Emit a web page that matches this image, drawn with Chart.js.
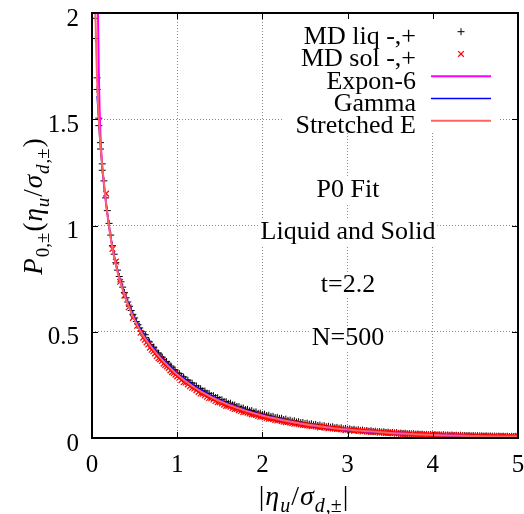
<!DOCTYPE html>
<html>
<head>
<meta charset="utf-8">
<script src="https://cdn.jsdelivr.net/npm/chart.js@4.4.1/dist/chart.umd.min.js"></script>
<style>
  html, body { margin: 0; padding: 0; background: #fff; }
</style>
</head>
<body>
<canvas id="c" width="524" height="514"></canvas>
<script>
// MD liquid points, "+" set
const liqX = [0.04,0.04,0.06,0.06,0.08,0.08,0.10,0.10,0.12,0.12,
  0.14,0.16,0.18,0.20,0.22,0.24,0.26,0.28,0.30,0.32,
  0.34,0.36,0.38,0.40,0.42,0.44,0.46,0.48,0.50,0.52,
  0.54,0.56,0.58,0.60,0.63,0.66,0.69,0.72,0.75,0.78,
  0.81,0.84,0.87,0.90,0.93,0.96,1.00,1.05,1.10,1.15,
  1.20,1.25,1.30,1.35,1.40,1.45,1.50,1.55,1.60,1.65,
  1.70,1.75,1.80,1.85,1.90,1.95,2.00,2.05,2.10,2.15,
  2.20,2.25,2.30,2.35,2.40,2.45,2.50,2.55,2.60,2.65,
  2.70,2.75,2.80,2.85,2.90,2.95,3.00,3.05,3.10,3.15,
  3.20,3.25,3.30,3.35,3.40,3.45,3.50,3.55,3.60,3.65,
  3.70,3.75,3.80,3.85,3.90,3.95,4.00,4.05,4.10,4.15,
  4.20,4.25,4.30,4.35,4.40,4.45,4.50,4.55,4.60,4.65,
  4.70,4.75,4.80,4.85,4.90,4.95,5.00];
const liqY = [1.975,1.88,1.695,1.64,1.505,1.47,1.39,1.36,1.29,1.26,
  1.21,1.13,1.07,1.01,0.955,0.905,0.865,0.825,0.79,0.76,
  0.735,0.71,0.685,0.66,0.64,0.62,0.60,0.582,0.565,0.548,
  0.533,0.518,0.502,0.49,0.473,0.456,0.44,0.424,0.41,0.396,
  0.382,0.369,0.357,0.347,0.333,0.321,0.307,0.291,0.275,0.261,
  0.247,0.234,0.222,0.211,0.200,0.190,0.181,0.172,0.163,0.156,
  0.148,0.141,0.134,0.128,0.122,0.116,0.111,0.106,0.101,0.096,
  0.092,0.087,0.083,0.079,0.075,0.072,0.068,0.065,0.062,0.059,
  0.056,0.053,0.051,0.048,0.046,0.043,0.041,0.039,0.037,0.036,
  0.034,0.032,0.031,0.029,0.028,0.026,0.025,0.024,0.022,0.021,
  0.020,0.019,0.018,0.017,0.016,0.015,0.015,0.014,0.014,0.013,
  0.013,0.012,0.012,0.011,0.011,0.010,0.010,0.0095,0.009,0.0088,
  0.0085,0.008,0.0078,0.0075,0.0072,0.007,0.0068];

// MD liquid points, "-" set
const liqX2 = [0.625,0.675,0.725,0.775,0.825,0.875,0.925,0.975,1.025,1.075,
  1.125,1.175,1.225,1.275,1.325,1.375,1.425,1.475,1.525,1.575,
  1.625,1.675,1.725,1.775,1.825,1.875,1.925,1.975,2.025,2.075,
  2.125,2.175,2.225,2.275,2.325,2.375,2.425,2.475,2.525,2.575,
  2.625,2.675,2.725,2.775,2.825,2.875,2.925,2.975,3.025,3.075,
  3.125,3.175,3.225,3.275,3.325,3.375,3.425,3.475,3.525,3.575,
  3.625,3.675,3.725,3.775,3.825,3.875,3.925,3.975,4.025,4.075,
  4.125,4.175,4.225,4.275,4.325,4.375,4.425,4.475,4.525,4.575,
  4.625,4.675,4.725,4.775,4.825,4.875,4.925,4.975];
const liqY2 = [0.486,0.452,0.428,0.401,0.38,0.36,0.339,0.32,0.303,0.287,
  0.272,0.258,0.245,0.232,0.221,0.209,0.199,0.19,0.18,0.171,
  0.164,0.155,0.148,0.141,0.135,0.129,0.123,0.117,0.112,0.107,
  0.102,0.097,0.093,0.089,0.084,0.081,0.077,0.073,0.070,0.067,
  0.064,0.061,0.058,0.055,0.053,0.050,0.048,0.045,0.043,0.041,
  0.039,0.037,0.035,0.034,0.032,0.030,0.029,0.027,0.026,0.025,
  0.023,0.022,0.021,0.020,0.019,0.018,0.017,0.016,0.016,0.015,
  0.015,0.014,0.014,0.013,0.013,0.012,0.012,0.011,0.011,0.010,
  0.010,0.0095,0.009,0.0088,0.0085,0.0082,0.008,0.0078];

// MD solid points, "+" set
const solX = [0.165,0.24,0.28,0.33,0.38,0.43,0.48,0.53,0.57,0.62,
  0.66,0.70,0.74,0.78,0.82,0.86,0.90,0.94,0.98,1.025,
  1.075,1.125,1.175,1.225,1.275,1.325,1.375,1.425,1.475,1.525,
  1.575,1.625,1.675,1.725,1.775,1.825,1.875,1.925,1.975,2.025,
  2.075,2.125,2.175,2.225,2.275,2.325,2.375,2.425,2.475,2.525,
  2.575,2.625,2.675,2.725,2.775,2.825,2.875,2.925,2.975,3.025,
  3.075,3.125,3.175,3.225,3.275,3.325,3.375,3.425,3.475,3.525,
  3.575,3.625,3.675,3.725,3.775,3.825,3.875,3.925,3.975,4.025,
  4.075,4.125,4.175,4.225,4.275,4.325,4.375,4.425,4.475,4.525,
  4.575,4.625,4.675,4.725,4.775,4.825,4.875,4.925,4.975];
const solY = [1.15,0.89,0.83,0.735,0.67,0.615,0.565,0.528,0.495,0.462,
  0.44,0.415,0.398,0.375,0.362,0.343,0.33,0.31,0.298,0.283,
  0.262,0.252,0.236,0.225,0.209,0.201,0.188,0.181,0.168,0.162,
  0.151,0.147,0.136,0.131,0.122,0.119,0.111,0.108,0.100,0.098,
  0.091,0.089,0.082,0.080,0.074,0.073,0.067,0.066,0.061,0.060,
  0.055,0.055,0.050,0.050,0.046,0.045,0.042,0.041,0.037,0.038,
  0.034,0.035,0.031,0.032,0.028,0.029,0.026,0.027,0.023,0.024,
  0.021,0.022,0.018,0.020,0.017,0.018,0.015,0.016,0.013,0.015,
  0.012,0.014,0.011,0.013,0.010,0.012,0.009,0.011,0.008,0.010,
  0.008,0.0095,0.007,0.009,0.006,0.0085,0.006,0.008,0.005];

// MD solid points, "-" set
const solX2 = [0.60,0.64,0.68,0.72,0.76,0.80,0.84,0.88,0.92,0.96,
  1.00,1.05,1.10,1.15,1.20,1.25,1.30,1.35,1.40,1.45,
  1.50,1.55,1.60,1.65,1.70,1.75,1.80,1.85,1.90,1.95,
  2.00,2.05,2.10,2.15,2.20,2.25,2.30,2.35,2.40,2.45,
  2.50,2.55,2.60,2.65,2.70,2.75,2.80,2.85,2.90,2.95,
  3.00,3.05,3.10,3.15,3.20,3.25,3.30,3.35,3.40,3.45,
  3.50,3.55,3.60,3.65,3.70,3.75,3.80,3.85,3.90,3.95,
  4.00,4.05,4.10,4.15,4.20,4.25,4.30,4.35,4.40,4.45,
  4.50,4.55,4.60,4.65,4.70,4.75,4.80,4.85,4.90,4.95,
  5.00];
const solY2 = [0.472,0.450,0.425,0.408,0.386,0.37,0.35,0.337,0.318,0.306,
  0.29,0.272,0.261,0.243,0.233,0.217,0.208,0.194,0.187,0.174,
  0.168,0.157,0.151,0.141,0.136,0.127,0.122,0.115,0.111,0.104,
  0.101,0.094,0.091,0.085,0.083,0.077,0.075,0.070,0.068,0.063,
  0.061,0.058,0.056,0.053,0.052,0.048,0.047,0.044,0.043,0.040,
  0.040,0.036,0.036,0.033,0.033,0.030,0.030,0.027,0.027,0.024,
  0.025,0.022,0.022,0.019,0.020,0.017,0.018,0.016,0.017,0.014,
  0.015,0.013,0.014,0.012,0.013,0.011,0.012,0.010,0.011,0.009,
  0.011,0.008,0.010,0.007,0.009,0.007,0.009,0.006,0.008,0.006,
  0.008];

// fitted curves, sampled
const curveX = [0.03,0.04,0.05,0.06,0.07,0.08,0.09,0.10,0.12,0.15,0.20,0.25,0.30,0.35,0.40,0.50,0.60,0.70,0.80,0.90,1.00,1.20,1.40,1.60,1.80,2.00,2.25,2.50,2.75,3.00,3.50,4.00,4.50,5.00];
const exponY = [null,null,2.9,2.4,2.0,1.72,1.54,1.42,1.28,1.155,0.995,0.874,0.785,0.715,0.655,0.56,0.487,0.43,0.382,0.34,0.302,0.242,0.195,0.159,0.130,0.107,0.084,0.065,0.0505,0.039,0.0235,0.014,0.009,0.006];
const gammaY = [null,null,null,1.61,1.55,1.48,1.42,1.37,1.275,1.16,1.0,0.877,0.788,0.718,0.658,0.564,0.491,0.434,0.386,0.344,0.306,0.246,0.199,0.162,0.133,0.109,0.086,0.066,0.051,0.039,0.0235,0.014,0.009,0.006];
const stretchY = [2.25,2.0,1.82,1.68,1.58,1.50,1.43,1.375,1.28,1.16,0.997,0.872,0.782,0.711,0.651,0.556,0.483,0.426,0.378,0.337,0.299,0.239,0.193,0.157,0.129,0.106,0.084,0.065,0.051,0.0395,0.024,0.0145,0.0095,0.0065];

const seriesNames = ['MD liq -,+', 'MD sol -,+', 'Expon-6', 'Gamma', 'Stretched E'];
const notes = ['P0 Fit', 'Liquid and Solid', 't=2.2', 'N=500'];

const FONT = 'Liberation Serif';

const pts = (xs, ys) => xs.map((x, i) => ({ x, y: ys[i] }));

function fontFor(kind, size) {
  const s = kind[0] === 's' ? Math.round(size * 0.7) : size;
  const it = kind.endsWith('i') ? 'italic ' : '';
  return `${it}${s}px "${FONT}"`;
}

// draw a little formula centred on (x, y) baseline
function drawMath(ctx, parts, x, y, size) {
  const widths = parts.map(([t, k]) => { ctx.font = fontFor(k, size); return ctx.measureText(t).width + 1; });
  const total = widths.reduce((a, b) => a + b, 0);
  let cx = x - total / 2;
  ctx.textAlign = 'left';
  ctx.textBaseline = 'alphabetic';
  parts.forEach(([t, k], i) => {
    ctx.font = fontFor(k, size);
    ctx.fillText(t, cx, y + (k[0] === 's' ? size * 0.25 : 0));
    cx += widths[i];
  });
}

const yTitle = [['P','i'],['0,±','sr'],['(','r'],['η','i'],['u','si'],['/','r'],['σ','i'],['d','si'],[',±','sr'],[')','r']];
const xTitle = [['|','r'],['η','i'],['u','si'],['/','r'],['σ','i'],['d','si'],[',±','sr'],['|','r']];

const overlay = {
  id: 'overlay',
  beforeDatasetsDraw(chart) {
    const ctx = chart.ctx;
    ctx.save();
    // annotation texts with opaque boxes
    ctx.font = `26px "${FONT}"`;
    ctx.textAlign = 'center';
    ctx.textBaseline = 'alphabetic';
    const base = [197, 239, 292, 345];
    notes.forEach((t, i) => {
      const w = ctx.measureText(t).width;
      ctx.fillStyle = '#fff';
      ctx.fillRect(348 - w / 2 - 2, base[i] - 19, w + 4, 25);
      ctx.fillStyle = '#000';
      ctx.fillText(t, 348, base[i]);
    });
    // key
    ctx.fillStyle = '#fff';
    ctx.fillRect(284, 14, 216, 119);
    chart.data.datasets.forEach((ds, i) => {
      const cy = 31.7 + i * 22.25;
      ctx.fillStyle = '#000';
      ctx.textAlign = 'right';
      ctx.font = `26px "${FONT}"`;
      ctx.fillText(ds.label, 416, cy + 12.5);
      if (ds.showLine) {
        ctx.strokeStyle = ds.borderColor;
        ctx.lineWidth = ds.borderWidth;
        ctx.beginPath();
        ctx.moveTo(431, cy);
        ctx.lineTo(491, cy);
        ctx.stroke();
      } else {
        ctx.strokeStyle = ds.borderColor;
        ctx.fillStyle = ds.borderColor;
        ctx.lineWidth = ds.borderWidth;
        Chart.helpers.drawPoint(ctx, {
          pointStyle: ds.pointStyle, radius: ds.pointRadius, borderWidth: ds.borderWidth
        }, 461, cy);
      }
    });
    ctx.restore();
  },
  afterDatasetsDraw(chart) {
    const { ctx, chartArea: a, scales } = chart;
    ctx.save();
    ctx.strokeStyle = '#000';
    ctx.lineWidth = 1;
    ctx.beginPath();
    scales.x.ticks.forEach(t => {
      const px = Math.round(scales.x.getPixelForValue(t.value)) + 0.5;
      ctx.moveTo(px, a.bottom); ctx.lineTo(px, a.bottom - 6);
      ctx.moveTo(px, a.top); ctx.lineTo(px, a.top + 6);
    });
    scales.y.ticks.forEach(t => {
      const py = Math.round(scales.y.getPixelForValue(t.value)) + 0.5;
      ctx.moveTo(a.left, py); ctx.lineTo(a.left + 6, py);
      ctx.moveTo(a.right, py); ctx.lineTo(a.right - 6, py);
    });
    ctx.stroke();
    ctx.lineWidth = 2;
    ctx.strokeRect(a.left, a.top, a.right - a.left, a.bottom - a.top);
    ctx.restore();
  },
  afterDraw(chart) {
    const ctx = chart.ctx;
    ctx.save();
    ctx.fillStyle = '#000';
    drawMath(ctx, xTitle, 304, 505, 28);
    ctx.translate(42, 206);
    ctx.rotate(-Math.PI / 2);
    drawMath(ctx, yTitle, 0, 0, 27);
    ctx.restore();
  }
};

const tickFont = { family: FONT, size: 25, lineHeight: 1 };

new Chart(document.getElementById('c'), {
  type: 'scatter',
  data: {
    datasets: [
      { label: seriesNames[0], data: pts(liqX, liqY).concat(pts(liqX2, liqY2)), showLine: false,
        pointStyle: 'cross', pointRadius: 3.5, borderColor: '#000', backgroundColor: '#000',
        borderWidth: 1, order: 4 },
      { label: seriesNames[1], data: pts(solX, solY).concat(pts(solX2, solY2)), showLine: false,
        pointStyle: 'crossRot', pointRadius: 4, borderColor: '#ff0000', backgroundColor: '#ff0000',
        borderWidth: 1.2, order: 3 },
      { label: seriesNames[2], data: pts(curveX, exponY), showLine: true, pointRadius: 0,
        borderColor: '#ff00ff', borderWidth: 2, cubicInterpolationMode: 'monotone', order: 2 },
      { label: seriesNames[3], data: pts(curveX, gammaY), showLine: true, pointRadius: 0,
        borderColor: '#0000ff', borderWidth: 1.5, cubicInterpolationMode: 'monotone', order: 1 },
      { label: seriesNames[4], data: pts(curveX, stretchY), showLine: true, pointRadius: 0,
        borderColor: '#ff6464', borderWidth: 2, cubicInterpolationMode: 'monotone', order: 0 }
    ]
  },
  options: {
    responsive: false,
    animation: false,
    devicePixelRatio: 1,
    layout: { padding: { top: 13, right: 6, left: 0, bottom: 0 } },
    plugins: { legend: { display: false }, tooltip: { enabled: false } },
    scales: {
      x: {
        type: 'linear', min: 0, max: 5,
        ticks: { stepSize: 1, color: '#000', font: tickFont, padding: 15, maxRotation: 0,
          callback: v => String(v) },
        grid: { color: '#8a8a8a', lineWidth: 1, drawTicks: false },
        border: { display: false, dash: [1, 2] },
        afterFit(s) { s.height = 76; s.paddingLeft = 0; s.paddingRight = 0; }
      },
      y: {
        type: 'linear', min: 0, max: 2,
        ticks: { stepSize: 0.5, color: '#000', font: tickFont, padding: 13, labelOffset: 6,
          callback: v => String(v) },
        grid: { color: '#8a8a8a', lineWidth: 1, drawTicks: false },
        border: { display: false, dash: [1, 2] },
        afterFit(s) { s.width = 92; s.paddingTop = 0; s.paddingBottom = 0; }
      }
    }
  },
  plugins: [overlay]
});
</script>
</body>
</html>
